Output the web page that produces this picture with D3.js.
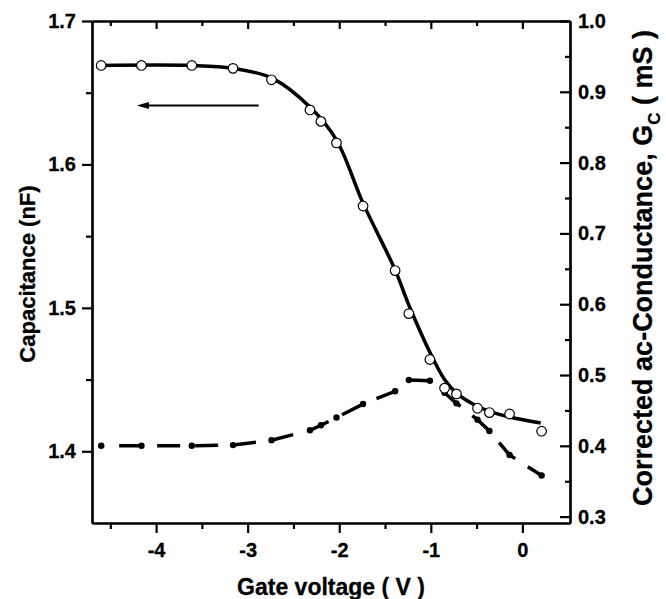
<!DOCTYPE html>
<html>
<head>
<meta charset="utf-8">
<script src="https://cdn.jsdelivr.net/npm/d3@7"></script>
<style>
  body { margin: 0; background: #fff; }
  svg { display: block; }
  text { font-family: "Liberation Sans", Arial, sans-serif; font-weight: bold; fill: #000; stroke: #000; stroke-width: 0.3px; }
</style>
</head>
<body>
<svg id="chart" width="666" height="599"></svg>
<script>
// gate voltage of each measurement (V)
const gateV = [-4.6, -4.16, -3.61, -3.16, -2.74, -2.32, -2.2, -2.03, -1.74, -1.39, -1.24, -1.01, -0.85, -0.72, -0.49, -0.36, -0.14, 0.21];
// capacitance (nF), open circles, left axis
const capacitance = [1.669, 1.669, 1.669, 1.667, 1.659, 1.638, 1.630, 1.615, 1.571, 1.526, 1.496, 1.464, 1.444, 1.440, 1.430, 1.427, 1.426, 1.414];
// corrected ac-conductance (mS), filled dots, right axis
const conductance = [0.400, 0.400, 0.400, 0.401, 0.408, 0.422, 0.429, 0.440, 0.459, 0.477, 0.493, 0.492, 0.475, 0.460, 0.437, 0.421, 0.387, 0.358];
// fitted curve through capacitance
const fitV = [-4.61, -3.61, -3.16, -2.73, -2.32, -2.03, -1.74, -1.39, -1.24, -1.01, -0.85, -0.71, -0.5, -0.35, -0.14, 0.2];
const fitC = [1.669, 1.669, 1.667, 1.660, 1.640, 1.617, 1.573, 1.5265, 1.502, 1.469, 1.450, 1.440, 1.4316, 1.4277, 1.4239, 1.4197];
// arrow pointing to the left axis
const arrowV = [-2.88, -4.21];
const arrowC = 1.641;

const xTicks = [-4, -3, -2, -1, 0];
const xMinor = [-4.5, -3.5, -2.5, -1.5, -0.5];
const yLeftTicks = [1.4, 1.5, 1.6, 1.7];
const yLeftMinor = [1.45, 1.55, 1.65];
const yRightTicks = [0.3, 0.4, 0.5, 0.6, 0.7, 0.8, 0.9, 1.0];
const yRightMinor = [0.35, 0.45, 0.55, 0.65, 0.75, 0.85, 0.95];

const svg = d3.select("#chart");
const pl = 92, pr = 570, pt = 21, pb = 523;

const x = d3.scaleLinear().domain([-4.7, 0.52]).range([pl, pr]);
const yL = d3.scaleLinear().domain([1.35, 1.7]).range([pb, pt]);
const yR = d3.scaleLinear().domain([0.291, 1.0]).range([pb, pt]);

// axes
const fmt = d3.format(".1f");
const bx = svg.append("g").attr("transform", `translate(0,${pb})`)
  .call(d3.axisBottom(x).tickValues(xTicks).tickFormat(d => String(d)).tickSize(10).tickSizeOuter(0));
svg.append("g").attr("transform", `translate(0,${pb})`)
  .call(d3.axisBottom(x).tickValues(xMinor).tickFormat("").tickSize(6).tickSizeOuter(0));
svg.append("g").attr("transform", `translate(0,${pt})`)
  .call(d3.axisBottom(x).tickValues(xTicks).tickFormat("").tickSize(8).tickSizeOuter(0));
svg.append("g").attr("transform", `translate(0,${pt})`)
  .call(d3.axisBottom(x).tickValues(xMinor).tickFormat("").tickSize(5).tickSizeOuter(0));

const ly = svg.append("g").attr("transform", `translate(${pl},0)`)
  .call(d3.axisLeft(yL).tickValues(yLeftTicks).tickFormat(fmt).tickSize(10).tickSizeOuter(0));
svg.append("g").attr("transform", `translate(${pl},0)`)
  .call(d3.axisLeft(yL).tickValues(yLeftMinor).tickFormat("").tickSize(6).tickSizeOuter(0));

const ry = svg.append("g").attr("transform", `translate(${pr},0)`)
  .call(d3.axisRight(yR).tickValues(yRightTicks).tickFormat(fmt).tickSize(-10).tickSizeOuter(0));
svg.append("g").attr("transform", `translate(${pr},0)`)
  .call(d3.axisRight(yR).tickValues(yRightMinor).tickFormat("").tickSize(-5).tickSizeOuter(0));

svg.selectAll(".domain").attr("stroke", "#000").attr("stroke-width", 2.2);
svg.selectAll(".tick line").attr("stroke", "#000").attr("stroke-width", 2.2);
svg.selectAll(".tick text")
  .attr("font-size", null).attr("font-family", null)
  .style("font-size", "20px")
  .style("font-family", "Liberation Sans, Arial, sans-serif")
  .style("font-weight", "bold");
bx.selectAll(".tick text").attr("dy", "0").attr("y", 34);
ly.selectAll(".tick text").attr("x", -16);
ry.selectAll(".tick text").attr("x", 8);

// fitted capacitance curve
const fitData = fitV.map((v, i) => [v, fitC[i]]);
svg.append("path")
  .datum(fitData)
  .attr("fill", "none")
  .attr("stroke", "#000")
  .attr("stroke-width", 3.5)
  .attr("d", d3.line().x(d => x(d[0])).y(d => yL(d[1])).curve(d3.curveCatmullRom.alpha(0.5)));

// conductance dashed line
const gData = gateV.map((v, i) => [v, conductance[i]]);
svg.append("path")
  .datum(gData)
  .attr("fill", "none")
  .attr("stroke", "#000")
  .attr("stroke-width", 3.5)
  .attr("stroke-dasharray", "23,15")
  .attr("stroke-dashoffset", -18)
  .attr("d", d3.line().x(d => x(d[0])).y(d => yR(d[1])));

svg.selectAll(".gdot")
  .data(gData)
  .enter()
  .append("circle")
  .attr("class", "gdot")
  .attr("cx", d => x(d[0]))
  .attr("cy", d => yR(d[1]))
  .attr("r", 3.2)
  .attr("fill", "#000");

// capacitance open circles
svg.selectAll(".cdot")
  .data(gateV.map((v, i) => [v, capacitance[i]]))
  .enter()
  .append("circle")
  .attr("class", "cdot")
  .attr("cx", d => x(d[0]))
  .attr("cy", d => yL(d[1]))
  .attr("r", 4.8)
  .attr("fill", "#fff")
  .attr("stroke", "#000")
  .attr("stroke-width", 1.2);

// arrow
const ax0 = x(arrowV[0]), ax1 = x(arrowV[1]), ay = yL(arrowC);
svg.append("line")
  .attr("x1", ax0).attr("y1", ay)
  .attr("x2", ax1 + 6).attr("y2", ay)
  .attr("stroke", "#000").attr("stroke-width", 2);
svg.append("path")
  .attr("d", `M${ax1},${ay} L${ax1 + 12},${ay - 3.5} L${ax1 + 12},${ay + 3.5} Z`)
  .attr("fill", "#000");

// titles
svg.append("text")
  .attr("x", 331).attr("y", 595)
  .attr("text-anchor", "middle")
  .style("font-size", "23px")
  .text("Gate voltage ( V )");

svg.append("text")
  .attr("transform", `translate(35,274) rotate(-90)`)
  .attr("text-anchor", "middle")
  .style("font-size", "22px")
  .text("Capacitance (nF)");

const rt = svg.append("text")
  .attr("transform", `translate(652,268) rotate(-90)`)
  .attr("text-anchor", "middle")
  .style("font-size", "27px");
rt.append("tspan").text("Corrected ac-Conductance, G");
rt.append("tspan").attr("dy", 8).style("font-size", "17px").text("C");
rt.append("tspan").attr("dy", -8).text(" ( mS )");
</script>
</body>
</html>
